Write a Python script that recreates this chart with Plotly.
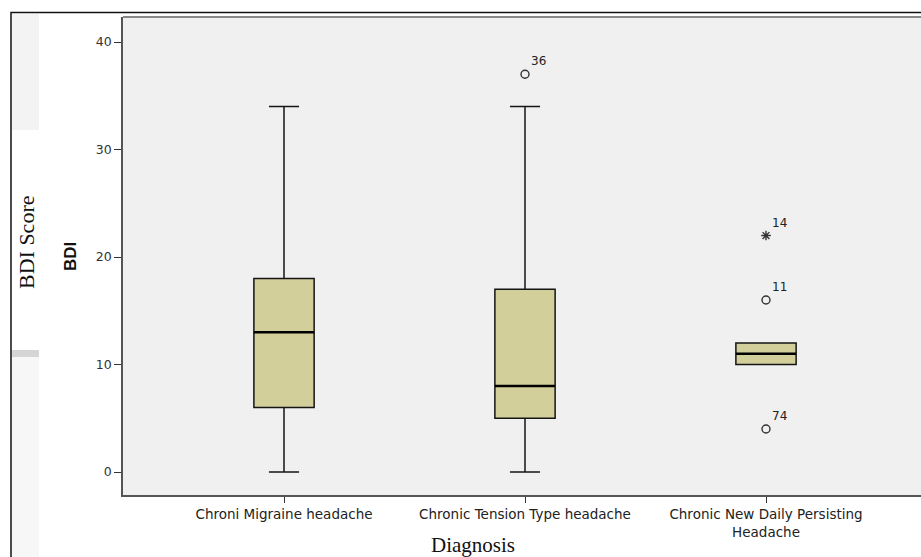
import plotly.graph_objects as go

categories = ["Chroni Migraine headache", "Chronic Tension Type headache",
              "Chronic New Daily Persisting<br>Headache"]
q1 = [6, 5, 10]
median = [13, 8, 11]
q3 = [18, 17, 12]
lower_whisker = [0, 0, 10]
upper_whisker = [34, 34, 12]

outlier_cat = [1, 2, 2]
outlier_val = [37, 16, 4]
outlier_lab = ["36", "11", "74"]
extreme_cat = [2]
extreme_val = [22]
extreme_lab = ["14"]

y_ticks = [0, 10, 20, 30, 40]

FONT = "DejaVu Sans, sans-serif"
ARIAL = "Arial, Liberation Sans, sans-serif"
SERIF = "Times New Roman, Liberation Serif, serif"
BOX_FILL = "#d3cf9b"
BOX_W = 0.25

fig = go.Figure()
xs = list(range(len(categories)))
fig.add_trace(go.Box(
    x=xs, q1=q1, median=median, q3=q3,
    lowerfence=lower_whisker, upperfence=upper_whisker,
    width=BOX_W, whiskerwidth=0.5, boxpoints=False,
    fillcolor=BOX_FILL, line=dict(color="#151515", width=1.5),
    showlegend=False, hoverinfo="skip",
))
# thicker median lines
for i, m in enumerate(median):
    fig.add_trace(go.Scatter(
        x=[i - BOX_W / 2, i + BOX_W / 2], y=[m, m], mode="lines",
        line=dict(color="#000000", width=2.5), showlegend=False, hoverinfo="skip",
    ))
fig.add_trace(go.Scatter(
    x=outlier_cat, y=outlier_val, mode="markers+text", text=outlier_lab,
    textposition="top right", textfont=dict(family=FONT, size=12, color="#222"),
    marker=dict(symbol="circle-open", size=8, color="#333", line=dict(width=1.4)),
    showlegend=False, hoverinfo="skip",
))
fig.add_trace(go.Scatter(
    x=extreme_cat, y=extreme_val, mode="markers+text", text=extreme_lab,
    textposition="top right", textfont=dict(family=FONT, size=12, color="#222"),
    marker=dict(symbol="asterisk-open", size=8, color="#333", line=dict(width=1.4)),
    showlegend=False, hoverinfo="skip",
))

W, H = 921, 557
L, R, T, B = 123, 0, 17, 62
pw, ph = W - L - R, H - T - B

def px_x(p):
    return (p - L) / pw

def px_y(p):
    return (H - B - p) / ph

fig.update_layout(
    width=W, height=H,
    margin=dict(l=L, r=R, t=T, b=B),
    paper_bgcolor="white", plot_bgcolor="#f0f0f0",
    font=dict(family=FONT, size=12, color="#222"),
    xaxis=dict(
        range=[-161 / 241, (pw - 161) / 241],
        tickvals=xs, ticktext=categories,
        ticks="outside", ticklen=6, tickcolor="#333", tickwidth=1.4,
        showline=True, linecolor="#555", linewidth=1.5,
        showgrid=False, zeroline=False,
        tickfont=dict(family=FONT, size=13.5, color="#222"),
    ),
    yaxis=dict(
        range=[-2.14, 42.33], tickvals=y_ticks,
        ticks="outside", ticklen=7, tickcolor="#333", tickwidth=1.4,
        showline=True, linecolor="#555", linewidth=1.5,
        showgrid=False, zeroline=False,
        tickfont=dict(family=FONT, size=12.5, color="#333"),
    ),
    shapes=[
        # outer frame
        dict(type="rect", xref="paper", yref="paper",
             x0=px_x(11), x1=px_x(930), y0=px_y(600), y1=px_y(12.5),
             line=dict(color="#111", width=1.5), fillcolor="rgba(0,0,0,0)", layer="below"),
        # faint gray panels at left edge
        dict(type="rect", xref="paper", yref="paper",
             x0=px_x(12), x1=px_x(39), y0=px_y(130), y1=px_y(14),
             line=dict(width=0), fillcolor="#f3f3f3", layer="below"),
        dict(type="rect", xref="paper", yref="paper",
             x0=px_x(12), x1=px_x(39), y0=px_y(557), y1=px_y(350),
             line=dict(width=0), fillcolor="#f7f7f7", layer="below"),
        dict(type="rect", xref="paper", yref="paper",
             x0=px_x(12), x1=px_x(39), y0=px_y(357), y1=px_y(350),
             line=dict(width=0), fillcolor="#d5d5d5", layer="below"),
        # top border of plot area
        dict(type="line", xref="paper", yref="paper",
             x0=0, x1=1, y0=1, y1=1, line=dict(color="#888", width=2)),
    ],
    annotations=[
        dict(text="BDI Score", xref="paper", yref="paper",
             x=px_x(27), y=px_y(243), textangle=-90, showarrow=False,
             xanchor="center", yanchor="middle",
             font=dict(family=SERIF, size=22, color="#111")),
        dict(text="<b>BDI</b>", xref="paper", yref="paper",
             x=px_x(70), y=px_y(257), textangle=-90, showarrow=False,
             xanchor="center", yanchor="middle",
             font=dict(family=ARIAL, size=17, color="#111")),
        dict(text="Diagnosis", xref="paper", yref="paper",
             x=px_x(473), y=px_y(545), showarrow=False,
             xanchor="center", yanchor="middle",
             font=dict(family=SERIF, size=21, color="#111")),
    ],
)

fig.write_html("out.html", config={"displayModeBar": False},
               post_script="document.body.style.margin='0px';document.body.style.overflow='hidden';")
